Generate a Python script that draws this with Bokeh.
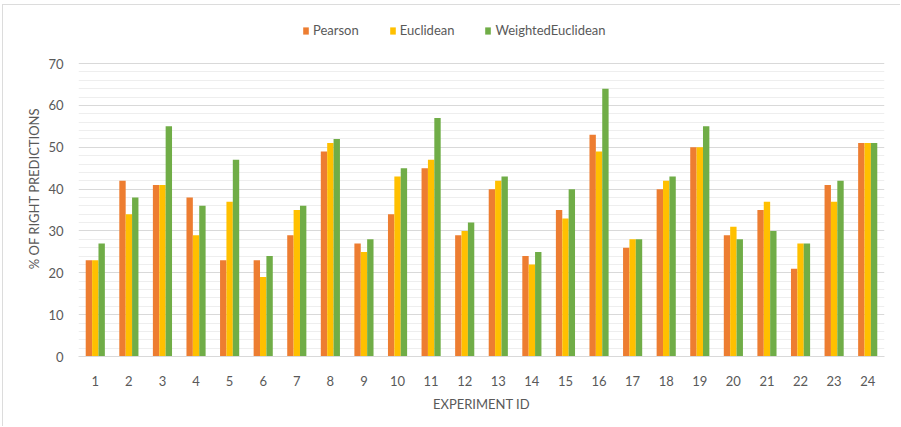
from bokeh.plotting import figure
from bokeh.models import ColumnDataSource, Range1d, FactorRange, FixedTicker
from bokeh.transform import dodge
from bokeh.embed import file_html
from bokeh.resources import INLINE

experiments = [str(i) for i in range(1, 25)]
pearson = [23, 42, 41, 38, 23, 23, 29, 49, 27, 34, 45, 29, 40, 24, 35, 53, 26, 40, 50, 29, 35, 21, 41, 51]
euclidean = [23, 34, 41, 29, 37, 19, 35, 51, 25, 43, 47, 30, 42, 22, 33, 49, 28, 42, 50, 31, 37, 27, 37, 51]
weighted = [27, 38, 55, 36, 47, 24, 36, 52, 28, 45, 57, 32, 43, 25, 40, 64, 28, 43, 55, 28, 30, 27, 42, 51]

series_names = ["Pearson", "Euclidean", "WeightedEuclidean"]
colors = ["#ED7D31", "#FFC000", "#70AD47"]

y_major_ticks = [0, 10, 20, 30, 40, 50, 60, 70]
y_minor_ticks = [v for v in range(0, 71, 2) if v % 10]

src = ColumnDataSource(dict(x=experiments, Pearson=pearson, Euclidean=euclidean,
                            WeightedEuclidean=weighted))

FONT = "Lato"
GRAY = "#595959"

# headroom above 70 leaves space for the legend row without extra gridlines
p = figure(width=898, height=422, x_range=FactorRange(factors=experiments),
           y_range=Range1d(0, 80.3),
           output_backend="svg", toolbar_location=None,
           min_border_left=75, min_border_right=17, min_border_top=15, min_border_bottom=71,
           styles={"border-left": "1px solid #dcdcdc", "border-top": "1px solid #dcdcdc",
                   "margin-left": "2px", "margin-top": "4px"})
p.outline_line_color = None

bw = 0.19
for i, (name, col) in enumerate(zip(series_names, colors)):
    p.vbar(x=dodge("x", (i - 1) * bw, range=p.x_range), top=name, width=bw,
           source=src, fill_color=col, line_color=None, legend_label=name)

leg = p.legend[0]
leg.orientation = "horizontal"
leg.location = (224, 318)
leg.label_text_font = FONT
leg.label_text_font_size = "13px"
leg.label_text_color = GRAY
leg.glyph_width = 7
leg.glyph_height = 9
leg.label_height = 14
leg.label_standoff = 4
leg.spacing = 30
leg.padding = 0
leg.margin = 0
leg.border_line_color = None
leg.background_fill_alpha = 0

p.yaxis.ticker = FixedTicker(ticks=y_major_ticks, minor_ticks=y_minor_ticks)
p.xgrid.grid_line_color = None
p.ygrid.grid_line_color = "#d9d9d9"
p.ygrid.minor_grid_line_color = "#eeeeee"

for ax in (p.xaxis[0], p.yaxis[0]):
    ax.major_tick_line_color = None
    ax.minor_tick_line_color = None
    ax.major_tick_out = 0
    ax.major_tick_in = 0
    ax.minor_tick_out = 0
    ax.minor_tick_in = 0
    ax.major_label_text_font = FONT
    ax.major_label_text_font_size = "13px"
    ax.major_label_text_color = GRAY
    ax.axis_label_text_font = FONT
    ax.axis_label_text_font_size = "13px"
    ax.axis_label_text_color = GRAY
    ax.axis_label_text_font_style = "normal"

p.yaxis.axis_line_color = None
p.xaxis.axis_line_color = "#d9d9d9"
p.yaxis.axis_label = "% OF RIGHT PREDICTIONS"
p.xaxis.axis_label = "EXPERIMENT ID"
p.yaxis.major_label_standoff = 15
p.yaxis.axis_label_standoff = 3
p.xaxis.major_label_standoff = 19
p.xaxis.axis_label_standoff = 7

open("out.html", "w").write(file_html(p, INLINE))
